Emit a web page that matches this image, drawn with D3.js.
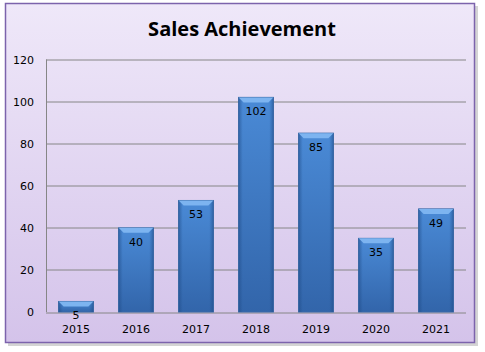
<!DOCTYPE html>
<html>
<head>
<meta charset="utf-8">
<script src="https://cdn.jsdelivr.net/npm/d3@7"></script>
<style>
  body { margin: 0; background: #ffffff; }
  svg text { font-family: "DejaVu Sans", Verdana, sans-serif; }
</style>
</head>
<body>
<div id="chart"></div>
<script>
// chart data
const years = ["2015", "2016", "2017", "2018", "2019", "2020", "2021"];
const sales = [5, 40, 53, 102, 85, 35, 49];
const yTicks = [0, 20, 40, 60, 80, 100, 120];
const chartTitle = "Sales Achievement";

const W = 485, H = 352;
const margin = {top: 59.5, right: 19, bottom: 40, left: 46};
const width = 466 - margin.left;
const height = 312 - margin.top;

const svg = d3.select("#chart").append("svg")
    .attr("width", W)
    .attr("height", H);

const defs = svg.append("defs");

let bg = defs.append("linearGradient").attr("id", "bgGrad")
    .attr("x1", 0).attr("y1", 0).attr("x2", 0).attr("y2", 1);
bg.append("stop").attr("offset", "0%").attr("stop-color", "#efe8f9");
bg.append("stop").attr("offset", "100%").attr("stop-color", "#d4c3ea");

let barV = defs.append("linearGradient").attr("id", "barV")
    .attr("x1", 0).attr("y1", 0).attr("x2", 0).attr("y2", 1);
barV.append("stop").attr("offset", "0%").attr("stop-color", "#4a8ad6");
barV.append("stop").attr("offset", "100%").attr("stop-color", "#3265aa");

let barH = defs.append("linearGradient").attr("id", "barH")
    .attr("x1", 0).attr("y1", 0).attr("x2", 1).attr("y2", 0);
barH.append("stop").attr("offset", "0%").attr("stop-color", "#1e4a85").attr("stop-opacity", 0.55);
barH.append("stop").attr("offset", "12%").attr("stop-color", "#1e4a85").attr("stop-opacity", 0);
barH.append("stop").attr("offset", "88%").attr("stop-color", "#1e4a85").attr("stop-opacity", 0);
barH.append("stop").attr("offset", "100%").attr("stop-color", "#1e4a85").attr("stop-opacity", 0.55);

// shadow + chart frame
svg.append("rect")
    .attr("x", 8).attr("y", 6)
    .attr("width", 470).attr("height", 340)
    .attr("fill", "#b8b8b8").attr("opacity", 0.6);
svg.append("rect")
    .attr("x", 5.5).attr("y", 3.5)
    .attr("width", 469).attr("height", 339)
    .attr("fill", "url(#bgGrad)")
    .attr("stroke", "#7c63ac")
    .attr("stroke-width", 1.5);

svg.append("text")
    .attr("x", 242)
    .attr("y", 36)
    .attr("text-anchor", "middle")
    .style("font-family", "'Open Sans', sans-serif")
    .style("font-weight", "bold")
    .style("font-size", "20px")
    .attr("fill", "#000")
    .text(chartTitle);

const g = svg.append("g")
    .attr("transform", `translate(${margin.left},${margin.top})`);

const x = d3.scaleBand()
    .domain(years)
    .range([0, width])
    .paddingInner(0.42)
    .paddingOuter(0.21);

const y = d3.scaleLinear()
    .domain([0, 120])
    .range([height, 0]);

// gridlines
g.selectAll(".grid")
    .data(yTicks)
    .enter()
    .append("line")
    .attr("class", "grid")
    .attr("x1", 0)
    .attr("x2", width)
    .attr("y1", d => Math.round(y(d)) + 0.5)
    .attr("y2", d => Math.round(y(d)) + 0.5)
    .attr("stroke", "#868686")
    .attr("stroke-width", 1);

g.append("line")
    .attr("x1", 0.5).attr("x2", 0.5)
    .attr("y1", 0).attr("y2", height)
    .attr("stroke", "#868686");

// y axis labels
const yAxis = d3.axisLeft(y).tickValues(yTicks).tickSize(0).tickPadding(12);
let yg = g.append("g").call(yAxis);
yg.select(".domain").remove();
yg.selectAll("text")
    .style("font-family", "'DejaVu Sans', Verdana, sans-serif")
    .style("font-size", "11px")
    .attr("fill", "#000");

// x axis labels
const xAxis = d3.axisBottom(x).tickSize(0).tickPadding(13);
let xg = g.append("g").attr("transform", `translate(0,${height})`).call(xAxis);
xg.select(".domain").remove();
xg.selectAll("text")
    .style("font-family", "'DejaVu Sans', Verdana, sans-serif")
    .style("font-size", "11px")
    .attr("fill", "#000");

// bars
const bars = g.selectAll(".bar")
    .data(sales)
    .enter()
    .append("g")
    .attr("class", "bar");

bars.append("rect")
    .attr("x", (d, i) => x(years[i]))
    .attr("y", d => y(d))
    .attr("width", x.bandwidth())
    .attr("height", d => height - y(d))
    .attr("fill", "url(#barV)")
    .attr("stroke", "#3a6aa8")
    .attr("stroke-width", 1);

bars.append("rect")
    .attr("x", (d, i) => x(years[i]))
    .attr("y", d => y(d))
    .attr("width", x.bandwidth())
    .attr("height", d => height - y(d))
    .attr("fill", "url(#barH)");

// top bevel
bars.append("path")
    .attr("d", (d, i) => {
        let x0 = x(years[i]), x1 = x0 + x.bandwidth(), t = y(d);
        let b = Math.min(5, (height - t) / 2);
        return `M${x0},${t} L${x1},${t} L${x1 - b},${t + b} L${x0 + b},${t + b} Z`;
    })
    .attr("fill", "#7db4f0");

// value labels
bars.append("text")
    .attr("x", (d, i) => x(years[i]) + x.bandwidth() / 2)
    .attr("y", d => y(d) + 18)
    .attr("text-anchor", "middle")
    .style("font-size", "11px")
    .attr("fill", "#000")
    .text(d => d);
</script>
</body>
</html>
